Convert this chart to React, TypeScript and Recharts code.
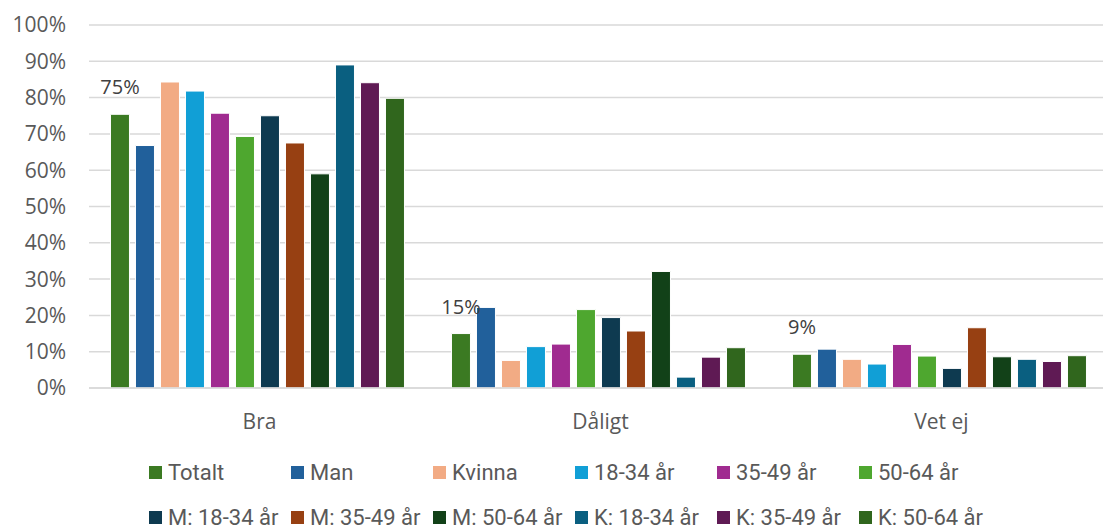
import { Bar, BarChart, CartesianGrid, LabelList, XAxis, YAxis } from 'recharts'

const categories = ['Bra', 'Dåligt', 'Vet ej']

const seriesNames = [
  'Totalt',
  'Man',
  'Kvinna',
  '18-34 år',
  '35-49 år',
  '50-64 år',
  'M: 18-34 år',
  'M: 35-49 år',
  'M: 50-64 år',
  'K: 18-34 år',
  'K: 35-49 år',
  'K: 50-64 år',
]

const seriesColors = [
  '#3B7A22',
  '#21609B',
  '#F2AB84',
  '#119FD6',
  '#A02B90',
  '#4EA72F',
  '#0E3A50',
  '#974012',
  '#124118',
  '#0A5F80',
  '#5F1A54',
  '#30661D',
]

// one array per category, in series order
const braValues = [75.4, 66.8, 84.3, 81.8, 75.7, 69.3, 75.0, 67.5, 59.0, 89.0, 84.1, 79.8]
const daligtValues = [15.0, 22.2, 7.6, 11.4, 12.1, 21.6, 19.4, 15.7, 32.1, 3.0, 8.5, 11.1]
const vetEjValues = [9.3, 10.7, 7.9, 6.6, 12.0, 8.8, 5.4, 16.6, 8.6, 7.9, 7.3, 8.9]

const yTicks = [0, 10, 20, 30, 40, 50, 60, 70, 80, 90, 100]

const valuesByCategory = [braValues, daligtValues, vetEjValues]
const data = categories.map((cat, ci) => {
  const row: Record<string, string | number> = { cat }
  seriesNames.forEach((s, si) => {
    row[s] = valuesByCategory[ci][si]
  })
  return row
})

const font = '"Open Sans", "Liberation Sans", sans-serif'
const legendFont = 'Roboto, "Open Sans", sans-serif'

function Legend() {
  return (
    <div
      style={{
        position: 'absolute',
        left: 149,
        top: 459,
        width: 900,
        display: 'grid',
        gridTemplateColumns: 'repeat(6, 142px)',
        rowGap: 19,
        fontFamily: legendFont,
        fontSize: 22,
        color: '#595959',
      }}
    >
      {seriesNames.map((s, i) => (
        <div key={s} style={{ display: 'flex', alignItems: 'center', height: 26, whiteSpace: 'nowrap' }}>
          <span style={{ width: 13, height: 13, background: seriesColors[i], marginRight: 6, display: 'inline-block' }} />
          {s}
        </div>
      ))}
    </div>
  )
}

export default function App() {
  return (
    <div
      style={{ position: 'absolute', left: 0, top: 0, width: 1103, height: 528, background: '#fff', overflow: 'hidden' }}
    >
      <BarChart
        width={1112}
        height={528}
        data={data}
        margin={{ top: 25, right: 0, left: 0, bottom: 90 }}
        barCategoryGap="6.3%"
        barGap={6}
      >
        <CartesianGrid vertical={false} stroke="#d9d9d9" strokeWidth={1.5} />
        <XAxis
          dataKey="cat"
          height={50}
          axisLine={{ stroke: '#d9d9d9', strokeWidth: 1.5 }}
          tickLine={false}
          tickMargin={20}
          tick={{ fill: '#595959', fontSize: 21, fontFamily: font }}
        />
        <YAxis
          width={89}
          domain={[0, 100]}
          ticks={yTicks}
          interval={0}
          axisLine={false}
          tickLine={false}
          tickSize={0}
          tickMargin={23}
          tickFormatter={(v) => `${v}%`}
          tick={{ fill: '#595959', fontSize: 21, fontFamily: font }}
        />
        {seriesNames.map((s, i) => (
          <Bar key={s} dataKey={s} fill={seriesColors[i]} stroke="#ffffff" strokeWidth={1} isAnimationActive={false}>
            {i === 0 && (
              <LabelList
                dataKey={s}
                position="top"
                offset={20}
                formatter={(v: number) => `${Math.round(v)}%`}
                style={{ fill: '#404040', fontSize: 20, fontFamily: font }}
              />
            )}
          </Bar>
        ))}
      </BarChart>
      <Legend />
    </div>
  )
}
